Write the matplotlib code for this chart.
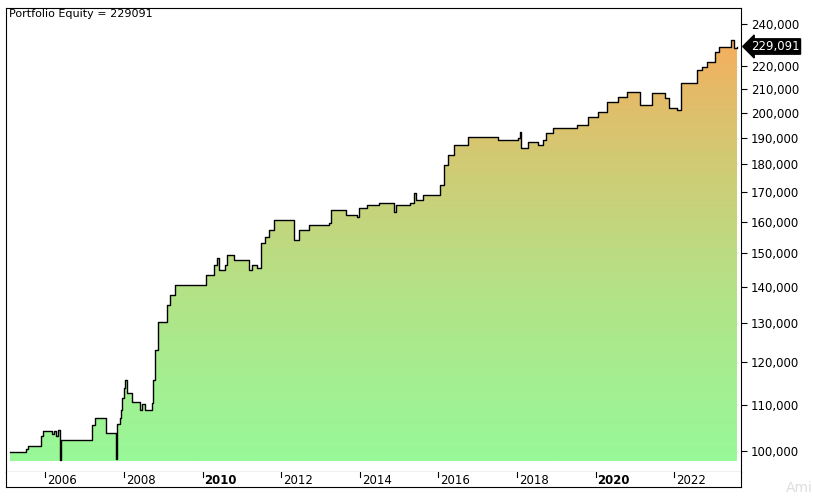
import matplotlib.pyplot as plt
import numpy as np
from matplotlib.colors import LinearSegmentedColormap
from matplotlib.patches import Polygon

# equity curve (decimal year, equity)
years = [2005.11, 2005.52, 2005.57, 2005.87, 2005.90, 2005.95, 2006.13, 2006.18, 2006.23, 2006.28,
         2006.33, 2006.38, 2006.41, 2006.53, 2007.14, 2007.19, 2007.27, 2007.52, 2007.54, 2007.77,
         2007.80, 2007.82, 2007.90, 2007.92, 2007.95, 2008.00, 2008.03, 2008.08, 2008.20, 2008.41,
         2008.46, 2008.53, 2008.71, 2008.73, 2008.78, 2008.86, 2009.04, 2009.09, 2009.16, 2009.29,
         2010.03, 2010.08, 2010.30, 2010.38, 2010.43, 2010.56, 2010.63, 2010.81, 2011.14, 2011.19,
         2011.27, 2011.39, 2011.49, 2011.59, 2011.70, 2011.82, 2012.28, 2012.33, 2012.46, 2012.71,
         2013.22, 2013.27, 2013.59, 2013.65, 2013.92, 2013.97, 2014.18, 2014.48, 2014.86, 2014.91,
         2015.24, 2015.29, 2015.37, 2015.44, 2015.62, 2015.70, 2016.00, 2016.05, 2016.15, 2016.25,
         2016.41, 2016.76, 2017.44, 2017.52, 2018.03, 2018.08, 2018.10, 2018.28, 2018.53, 2018.66,
         2018.73, 2018.91, 2019.54, 2019.80, 2020.05, 2020.30, 2020.56, 2020.81, 2021.06, 2021.14,
         2021.44, 2021.77, 2021.87, 2022.08, 2022.18, 2022.46, 2022.58, 2022.71, 2022.84, 2023.04,
         2023.14, 2023.39, 2023.44, 2023.52, 2023.59]
equity = [99.8, 100.4, 101.0, 101.0, 103.1, 104.2, 104.2, 103.5, 104.2, 103.1,
          104.4, 98.2, 102.3, 102.3, 102.3, 105.5, 107.0, 107.0, 103.8, 103.8,
          98.4, 105.7, 107.0, 108.8, 111.5, 113.8, 115.7, 112.6, 110.6, 108.8,
          110.1, 108.8, 110.3, 115.7, 123.0, 130.3, 130.3, 134.9, 137.6, 140.6,
          140.6, 143.4, 146.4, 148.5, 144.9, 146.4, 149.5, 147.9, 147.9, 144.9,
          146.4, 145.5, 153.2, 155.1, 157.3, 160.5, 160.5, 154.1, 157.3, 158.8,
          159.6, 163.9, 163.9, 162.2, 161.5, 164.5, 165.6, 166.2, 163.2, 165.6,
          165.6, 166.2, 169.7, 167.2, 169.1, 169.1, 169.1, 172.5, 179.7, 183.5,
          187.2, 190.4, 190.4, 189.2, 189.9, 192.3, 186.0, 188.3, 187.2, 189.2,
          191.9, 193.9, 195.1, 198.2, 200.2, 204.4, 206.4, 208.7, 208.7, 203.3,
          208.3, 206.2, 202.0, 201.1, 212.4, 212.4, 218.2, 219.6, 221.8, 226.4,
          228.9, 228.9, 232.1, 228.5, 229.091]
equity = [e * 1000 for e in equity]
final_value = 229091
y_ticks = [100000, 110000, 120000, 130000, 140000, 150000, 160000, 170000,
           180000, 190000, 200000, 210000, 220000, 240000]
x_labels = [2006, 2008, 2010, 2012, 2014, 2016, 2018, 2020, 2022]

W, H = 813, 496
fig = plt.figure(figsize=(W / 100, H / 100), dpi=100)
ax = fig.add_axes([6 / W, 1 - 472 / H, 735 / W, 464 / H])
ymin, ymax = 95800, 247900
xmin, xmax = 2005.0, 2023.7
ax.set_yscale('log')
ax.set_xlim(xmin, xmax)
ax.set_ylim(ymin, ymax)

# step path and gradient fill
xs = np.repeat(years, 2)[1:]
ys = np.repeat(equity, 2)[:-1]
base = 98000
poly = Polygon(np.column_stack([np.r_[xs[0], xs, xs[-1]], np.r_[base, ys, base]]),
               closed=True, transform=ax.transData, facecolor='none', edgecolor='none')
ax.add_patch(poly)
cmap = LinearSegmentedColormap.from_list('eq', ['#98f898', '#f5ae5e'])
grad = np.linspace(0, 1, 256).reshape(-1, 1)
im = ax.imshow(grad, cmap=cmap, aspect='auto', origin='lower',
               extent=[xmin, xmax, base, 232000], zorder=1)
im.set_clip_path(poly)
ax.set_ylim(ymin, ymax)
ax.plot(xs, ys, color='black', lw=1, zorder=2)

ax.yaxis.tick_right()
ax.set_yticks(y_ticks)
ax.set_yticklabels([f'{v:,}' for v in y_ticks], fontsize=8.5, family='Arial')
ax.yaxis.set_minor_locator(plt.NullLocator())
ax.yaxis.set_minor_formatter(plt.NullFormatter())
ax.tick_params(axis='y', length=4, pad=3)
ax.set_xticks([])
ax.text(0.004, 0.997, f'Portfolio Equity = {final_value}', transform=ax.transAxes,
        ha='left', va='top', fontsize=8, family='Arial')
ax.annotate(f'{final_value:,}', xy=(1.0, final_value), xycoords=('axes fraction', 'data'),
            xytext=(7, 0), textcoords='offset points', ha='left', va='center',
            fontsize=8.5, color='white', family='Arial',
            bbox=dict(boxstyle='larrow,pad=0.1', fc='black', ec='black'))

# date band
bx = fig.add_axes([6 / W, 1 - 487 / H, 735 / W, 15 / H])
bx.set_xlim(xmin, xmax)
bx.set_ylim(0, 1)
bx.set_yticks([])
bx.set_xticks([])
bx.spines['top'].set_visible(False)
for yr in x_labels:
    bx.plot([yr, yr], [0.7, 1], color='black', lw=0.8)
    bx.text(yr + 0.05, 0.45, str(yr), ha='left', va='center', fontsize=8.5, family='Arial',
            fontweight='bold' if yr % 10 == 0 else 'normal')

fig.text(786 / W, 1 - 488 / H, 'Ami', color='#dddddd', fontsize=10, va='center')
fig.savefig('out.png', dpi=100)
